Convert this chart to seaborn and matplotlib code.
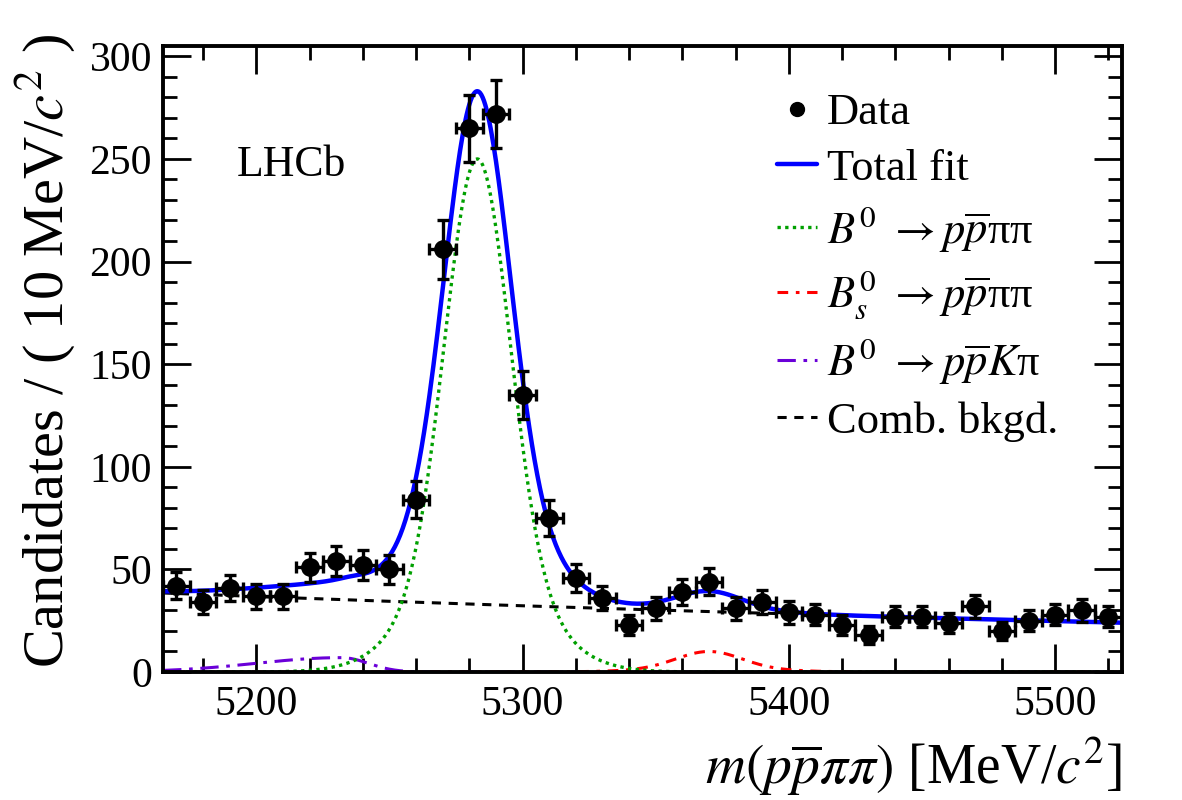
import numpy as np
import pandas as pd
import seaborn as sns
import matplotlib.pyplot as plt
from matplotlib.lines import Line2D
from matplotlib.ticker import MultipleLocator

# binned data, 10 MeV bins
bin_centres = [5170, 5180, 5190, 5200, 5210, 5220, 5230, 5240, 5250, 5260,
               5270, 5280, 5290, 5300, 5310, 5320, 5330, 5340, 5350, 5360,
               5370, 5380, 5390, 5400, 5410, 5420, 5430, 5440, 5450, 5460,
               5470, 5480, 5490, 5500, 5510, 5520]
counts = [42, 34, 41, 37, 37, 51, 54, 52, 50, 84,
          206, 265, 272, 135, 75, 46, 36, 23, 31, 39,
          44, 31, 34, 29, 28, 23, 18, 27, 27, 24,
          32, 20, 25, 28, 30, 27]
bin_width = 10

# fit components, shape parameters estimated from the curves
mass_range = (5165, 5525)
b0_mass = 5283
b0_core_height, b0_core_sigma = 200, 12
b0_wide_height, b0_wide_sigma = 50, 22
bs_mass = 5370
bs_height = 10
kpi_peak, kpi_height = 5232, 7
kpi_sigma_left, kpi_sigma_right = 32, 10
comb_start, comb_slope = 38.5, -0.00131

m = np.linspace(mass_range[0], mass_range[1], 721)


def b0_shape(x, mu):
    d = x - mu
    return (b0_core_height * np.exp(-0.5 * (d / b0_core_sigma) ** 2)
            + b0_wide_height * np.exp(-0.5 * (d / b0_wide_sigma) ** 2))


b0_curve = b0_shape(m, b0_mass)
bs_curve = b0_shape(m, bs_mass) * bs_height / (b0_core_height + b0_wide_height)
kpi_sig = np.where(m < kpi_peak, kpi_sigma_left, kpi_sigma_right)
kpi_curve = kpi_height * np.exp(-0.5 * ((m - kpi_peak) / kpi_sig) ** 2)
comb_curve = comb_start * np.exp(comb_slope * (m - mass_range[0]))
total_curve = b0_curve + bs_curve + kpi_curve + comb_curve

curves = pd.DataFrame({"m": m, "total": total_curve, "b0": b0_curve,
                       "bs": bs_curve, "kpi": kpi_curve, "comb": comb_curve})

sns.set_theme(style="ticks")
plt.rcParams["font.family"] = ["Liberation Serif", "DejaVu Serif"]
plt.rcParams["mathtext.fontset"] = "stix"
plt.rcParams.update({"text.color": "black", "axes.labelcolor": "black",
                     "xtick.color": "black", "ytick.color": "black"})

fig = plt.figure(figsize=(11.82, 8), dpi=100)
ax = fig.add_axes([0.138, 0.16, 0.811, 0.7825])

sns.lineplot(data=curves, x="m", y="comb", ax=ax, color="black", lw=2.2,
             linestyle=(0, (3, 2.5)), zorder=2)
sns.lineplot(data=curves, x="m", y="kpi", ax=ax, color="#6a00d8", lw=2.2,
             linestyle=(0, (6, 2.5, 1.2, 2.5)), zorder=2)
sns.lineplot(data=curves, x="m", y="bs", ax=ax, color="red", lw=2.2,
             linestyle=(0, (3.5, 2.5, 1.2, 2.5)), zorder=2)
sns.lineplot(data=curves, x="m", y="b0", ax=ax, color="#00a000", lw=2.4,
             linestyle=(0, (1, 1.3)), zorder=3)
sns.lineplot(data=curves, x="m", y="total", ax=ax, color="#0000ff", lw=3.2,
             zorder=4)

ax.errorbar(bin_centres, counts, xerr=bin_width / 2, yerr=np.sqrt(counts),
            fmt="o", color="black", ms=12.5, elinewidth=2.4, capsize=4,
            capthick=2.4, zorder=5)

ax.set_xlim(*mass_range)
ax.set_ylim(0, 305)
ax.xaxis.set_major_locator(MultipleLocator(100))
ax.xaxis.set_minor_locator(MultipleLocator(20))
ax.yaxis.set_major_locator(MultipleLocator(50))
ax.yaxis.set_minor_locator(MultipleLocator(10))
ax.tick_params(which="both", direction="in", top=True, right=True, width=2,
               labelsize=30, color="black", labelcolor="black")
ax.tick_params(which="major", length=20)
ax.tick_params(which="minor", length=10)
ax.tick_params(axis="x", pad=10)
ax.tick_params(axis="y", pad=8)
for s in ax.spines.values():
    s.set_linewidth(2.8)
    s.set_color("black")
    s.set_zorder(6)

ax.set_xlabel(r"$m(p\overline{p}\pi\pi)$ [MeV/$c^2$]", fontsize=40, loc="right")
ax.set_ylabel(r"Candidates / ( 10 MeV/$c^2$ )", fontsize=42, loc="center")
ax.yaxis.set_label_coords(-0.089, 0.513)
ax.xaxis.set_label_coords(1.0, -0.1)

ax.text(0.077, 0.81, "LHCb", transform=ax.transAxes, fontsize=31.5,
        va="center", ha="left")

handles = [
    Line2D([], [], marker="o", ls="none", color="black", ms=10),
    Line2D([], [], color="#0000ff", lw=3.2),
    Line2D([], [], color="#00a000", lw=2.4, linestyle=(0, (1, 1.3))),
    Line2D([], [], color="red", lw=2.2, linestyle=(0, (3.5, 2.5, 1.2, 2.5))),
    Line2D([], [], color="#6a00d8", lw=2.2, linestyle=(0, (6, 2.5, 1.2, 2.5))),
    Line2D([], [], color="black", lw=2.2, linestyle=(0, (3, 2.5))),
]
labels = ["Data", "Total fit",
          r"$B^0$ $\rightarrow p\overline{p}$ππ",
          r"$B^0_s$ $\rightarrow p\overline{p}$ππ",
          r"$B^0$ $\rightarrow p\overline{p}K$π",
          "Comb. bkgd."]
ax.legend(handles, labels, loc="upper left", bbox_to_anchor=(0.617, 0.96),
          frameon=False, fontsize=32, handlelength=0.9, handletextpad=0.22,
          labelspacing=0.34, borderpad=0)

fig.savefig("out.png", dpi=100)
